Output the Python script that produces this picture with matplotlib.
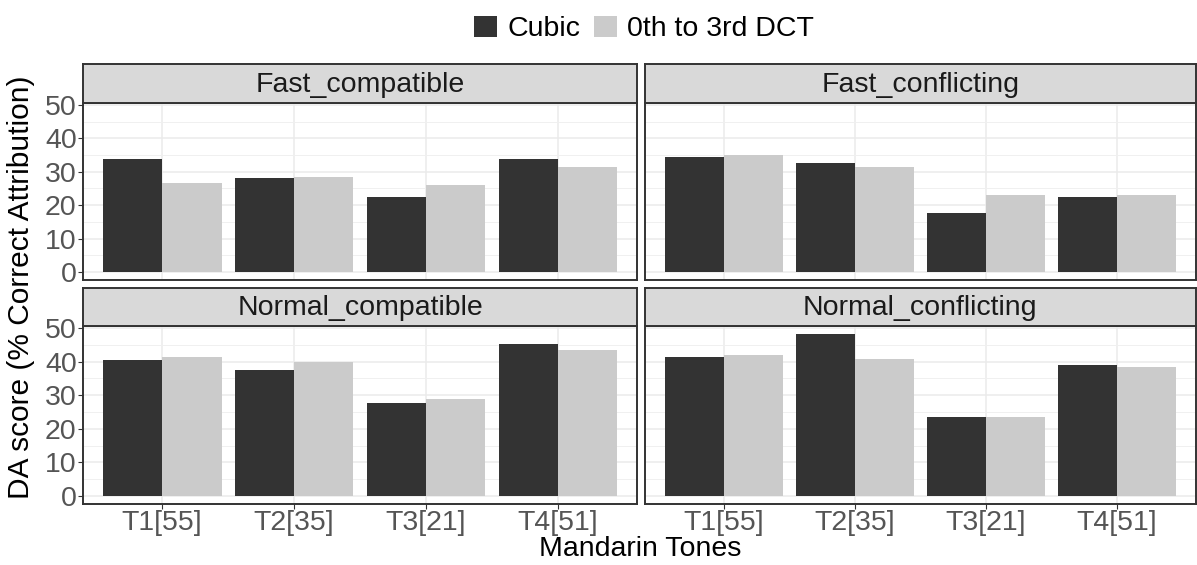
import numpy as np
import matplotlib
matplotlib.use("Agg")
import matplotlib.pyplot as plt
from matplotlib.patches import Patch

plt.rcParams['font.family'] = ['Liberation Sans', 'DejaVu Sans']

tones = ["T1[55]", "T2[35]", "T3[21]", "T4[51]"]
panels = ["Fast_compatible", "Fast_conflicting", "Normal_compatible", "Normal_conflicting"]
series = ["Cubic", "0th to 3rd DCT"]

cubic_fast_compat = [33.8, 28.0, 22.6, 33.8]
dct_fast_compat = [26.7, 28.5, 26.1, 31.4]
cubic_fast_confl = [34.4, 32.7, 17.7, 22.5]
dct_fast_confl = [35.0, 31.4, 23.1, 23.1]
cubic_norm_compat = [40.5, 37.5, 27.7, 45.2]
dct_norm_compat = [41.5, 39.8, 29.0, 43.4]
cubic_norm_confl = [41.5, 48.2, 23.5, 39.1]
dct_norm_confl = [42.0, 40.8, 23.4, 38.4]

cubic = [cubic_fast_compat, cubic_fast_confl, cubic_norm_compat, cubic_norm_confl]
dct = [dct_fast_compat, dct_fast_confl, dct_norm_compat, dct_norm_confl]

W, H = 1197, 565
fig = plt.figure(figsize=(W / 100, H / 100), dpi=100)

def rect(x0, y0, x1, y1):
    # pixel box (top-left origin) -> figure fraction
    return [x0 / W, 1 - y1 / H, (x1 - x0) / W, (y1 - y0) / H]

dark = "#333333"
light = "#CBCBCB"
border = "#333333"
fs = 20.5

cols = [(83, 637), (645, 1195.5)]
rows = [(64, 103, 280), (288, 326, 504)]

x = np.arange(len(tones))
bw = 0.45
for i, name in enumerate(panels):
    r, c = divmod(i, 2)
    x0, x1 = cols[c]
    s0, p0, p1 = rows[r]
    ax = fig.add_axes(rect(x0, p0, x1, p1))
    ax.bar(x - bw / 2, cubic[i], width=bw, color=dark, zorder=3)
    ax.bar(x + bw / 2, dct[i], width=bw, color=light, zorder=3)
    ax.set_xlim(-0.6, 3.6)
    ax.set_ylim(-2.4, 50.6)
    ax.set_yticks(range(0, 51, 10))
    ax.set_yticks(range(5, 50, 10), minor=True)
    ax.set_xticks(x)
    ax.grid(True, which="major", color="#EBEBEB", lw=1.1, zorder=0)
    ax.grid(True, which="minor", axis="y", color="#F0F0F0", lw=0.7, zorder=0)
    ax.tick_params(which="minor", length=0)
    ax.tick_params(which="major", length=3.5, width=0.8, color=border,
                   labelsize=fs, labelcolor="#555555", pad=1)
    if c == 0:
        ax.set_yticklabels([str(v) for v in range(0, 51, 10)])
    else:
        ax.set_yticklabels([])
        ax.tick_params(axis="y", length=0)
    if r == 1:
        ax.set_xticklabels(tones)
    else:
        ax.set_xticklabels([])
        ax.tick_params(axis="x", length=0)
    for sp in ax.spines.values():
        sp.set_color(border)
        sp.set_linewidth(1.4)

    st = fig.add_axes(rect(x0, s0, x1, p0))
    st.set_facecolor("#D9D9D9")
    st.set_xticks([])
    st.set_yticks([])
    for sp in st.spines.values():
        sp.set_color(border)
        sp.set_linewidth(1.4)
    st.text(0.5, 0.47, name, ha="center", va="center", fontsize=fs,
            color="#1A1A1A", transform=st.transAxes)

fig.text(21 / W, 1 - 287 / H, "DA score (% Correct Attribution)", rotation=90,
         ha="center", va="center", fontsize=21.5)
fig.text(640 / W, 1 - 549 / H, "Mandarin Tones", ha="center", va="center", fontsize=fs)

handles = [Patch(facecolor=dark, edgecolor="none"), Patch(facecolor=light, edgecolor="none")]
fig.legend(handles, series, loc="center", bbox_to_anchor=(644 / W, 1 - 29 / H), ncol=2,
           frameon=False, fontsize=fs, handlelength=0.8, handleheight=0.8,
           handletextpad=0.35, columnspacing=0.5, borderpad=0)

fig.savefig("out.png", dpi=100)
